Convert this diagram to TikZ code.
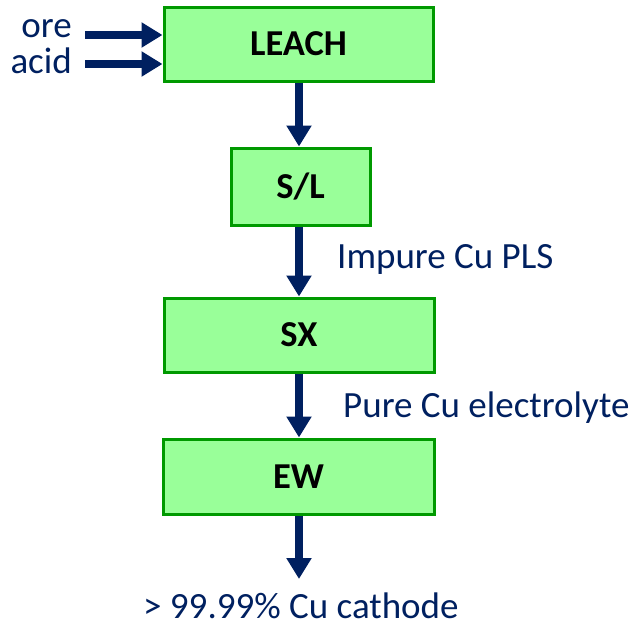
\documentclass[tikz,border=0pt]{standalone}
\usepackage{fontspec}
\setmainfont{Carlito}
\usetikzlibrary{arrows.meta}
\definecolor{navy}{HTML}{002060}
\definecolor{boxfill}{HTML}{99FF99}
\definecolor{boxline}{HTML}{009900}
\tikzset{
  unit/.style={draw=boxline, fill=boxfill, line width=3pt, inner sep=0pt,
    font=\fontsize{36.5}{42}\selectfont\bfseries, text=black},
  flow/.style={draw=navy, line width=8pt, -{Triangle[width=24pt,length=21pt]}},
  lbl/.style={text=navy, font=\fontsize{37}{42}\selectfont, inner sep=0pt}
}
\begin{document}
\begin{tikzpicture}[x=1pt,y=-1pt]
\useasboundingbox (0,0) rectangle (635,624);
\node[unit, minimum width=269pt, minimum height=74pt] (leach) at (298.5,44) {LEACH};
\node[unit, minimum width=139pt, minimum height=77pt] (sl) at (300.5,186.5) {S/L};
\node[unit, minimum width=270pt, minimum height=74pt] (sx) at (299,335) {SX};
\node[unit, minimum width=271pt, minimum height=75pt] (ew) at (298.5,476.5) {EW};
\coordinate (oreS) at (85,35);
\coordinate (acidS) at (85,64);
\coordinate (prod) at (299,579);
\node[lbl, anchor=base east] (ore) at (72,37) {ore};
\node[lbl, anchor=base east] (acid) at (72,73) {acid};
\node[lbl, anchor=base west] (pls) at (337,268) {Impure Cu PLS};
\node[lbl, anchor=base west] (elec) at (343,417) {Pure Cu electrolyte};
\node[lbl, anchor=base west] (cath) at (143,618) {> 99.99\% Cu cathode};
\draw[flow] (oreS) -- (oreS -| leach.west);
\draw[flow] (acidS) -- (acidS -| leach.west);
\draw[flow] (299,0 |- leach.south) -- (299,0 |- sl.north);
\draw[flow] (299,0 |- sl.south) -- (299,0 |- sx.north);
\draw[flow] (299,0 |- sx.south) -- (299,0 |- ew.north);
\draw[flow] (299,0 |- ew.south) -- (prod);
\end{tikzpicture}
\end{document}
